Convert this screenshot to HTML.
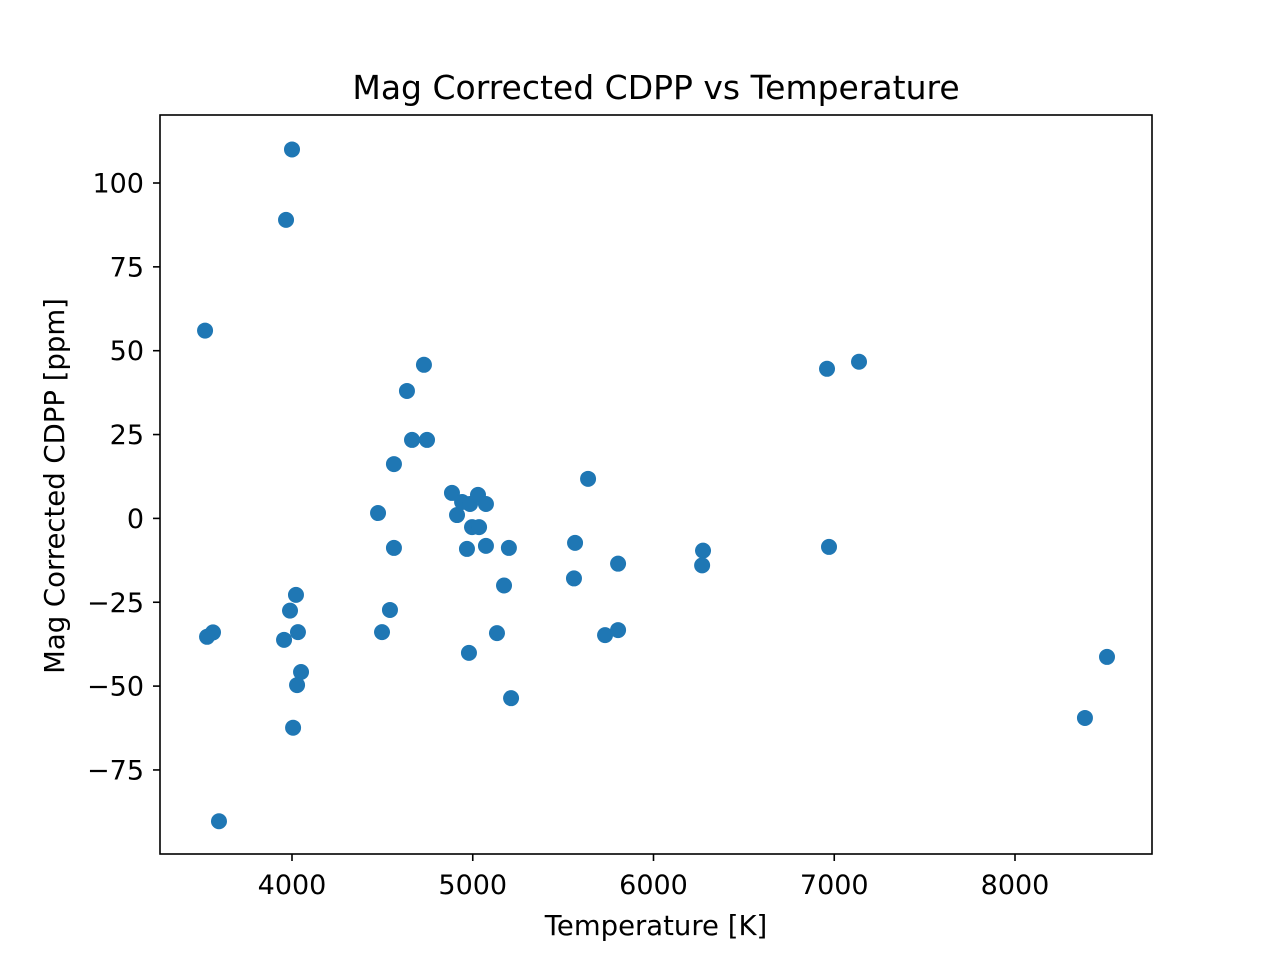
<!DOCTYPE html>
<html><head><meta charset="utf-8"><style>
body{margin:0;background:#fff;}
text{font-family:"DejaVu Sans","Liberation Sans",sans-serif;fill:#000;}
</style></head><body>
<svg id="chart" width="1280" height="960">
<rect width="1280" height="960" fill="#fff"/>
<text x="656" y="99" font-size="33" text-anchor="middle">Mag Corrected CDPP vs Temperature</text>
<g id="marks"></g>
<g id="axes"></g>
<rect x="160" y="115" width="992" height="739" fill="none" stroke="#000" stroke-width="1.6"/>
<text x="656" y="935" font-size="27.5" text-anchor="middle">Temperature [K]</text>
<text transform="translate(64,486) rotate(-90)" font-size="27.5" text-anchor="middle">Mag Corrected CDPP [ppm]</text>
</svg>
<script>
const temps=[4000,3967,3519,4730,4636,4664,4747,4564,6960,7137,5638,4476,4885,4913,4941,4985,5029,5073,4996,5035,4968,5073,5200,4564,5566,5560,5804,6274,6269,6971,5173,4022,3989,4542,3563,3530,3956,4033,4498,5134,5732,5804,4979,4050,4028,5212,4006,3596,8387,8509];
const cdpp=[110,89,56,45.8,38,23.4,23.4,16.2,44.6,46.7,11.8,1.6,7.6,1,4.9,4.3,7,4.3,-2.6,-2.6,-9.1,-8.2,-8.8,-8.8,-7.3,-17.9,-13.5,-9.6,-14,-8.5,-20,-22.8,-27.5,-27.3,-34,-35.3,-36.2,-33.9,-33.9,-34.2,-34.8,-33.3,-40.1,-45.8,-49.7,-53.6,-62.4,-90.3,-59.5,-41.3];
const xTicks=[4000,5000,6000,7000,8000];
const yTicks=[100,75,50,25,0,-25,-50,-75];
const xs=v=>292+(v-4000)*0.18075;
const ys=v=>518.4-v*3.354;
const NS="http://www.w3.org/2000/svg";
const marks=document.getElementById('marks'),axes=document.getElementById('axes');
temps.forEach((t,i)=>{
 const c=document.createElementNS(NS,'circle');
 c.setAttribute('cx',xs(t));c.setAttribute('cy',ys(cdpp[i]));c.setAttribute('r',8);c.setAttribute('fill','#1f77b4');
 
 
 marks.appendChild(c);
});
xTicks.forEach(v=>{
 const x=xs(v);
 const l=document.createElementNS(NS,'line');
 l.setAttribute('x1',x);l.setAttribute('x2',x);l.setAttribute('y1',854);l.setAttribute('y2',861);l.setAttribute('stroke','#000');l.setAttribute('stroke-width','1.6');
 
 
 axes.appendChild(l);
 const t=document.createElementNS(NS,'text');
 t.setAttribute('x',x);t.setAttribute('y',894);t.setAttribute('font-size','27');t.setAttribute('text-anchor','middle');t.textContent=v;
 
 
 axes.appendChild(t);
});
yTicks.forEach(v=>{
 const y=ys(v);
 const l=document.createElementNS(NS,'line');
 l.setAttribute('x1',153);l.setAttribute('x2',160);l.setAttribute('y1',y);l.setAttribute('y2',y);l.setAttribute('stroke','#000');l.setAttribute('stroke-width','1.6');
 
 
 axes.appendChild(l);
 const t=document.createElementNS(NS,'text');
 t.setAttribute('x',144);t.setAttribute('y',y+9.5);t.setAttribute('font-size','27');t.setAttribute('text-anchor','end');t.textContent=v<0?'\u2212'+(-v):v;
 
 
 axes.appendChild(t);
});
</script>
</body></html>
